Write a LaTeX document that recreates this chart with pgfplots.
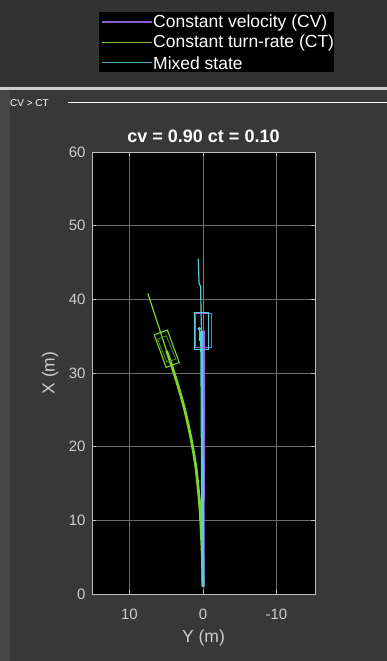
\documentclass[border=0pt]{standalone}
\usepackage{pgfplots}
\pgfplotsset{compat=1.18}
\usepackage{fontspec}
\setmainfont{Liberation Sans}
\definecolor{bg}{RGB}{56,56,56}
\definecolor{bgtop}{RGB}{50,50,50}
\definecolor{strip}{RGB}{70,70,70}
\definecolor{sepline}{RGB}{205,205,205}
\definecolor{axgray}{RGB}{190,190,190}
\definecolor{gridgray}{RGB}{110,110,110}
\definecolor{lblgray}{RGB}{205,205,205}
\definecolor{cvcol}{RGB}{160,95,225}
\definecolor{ctcol}{RGB}{120,215,45}
\definecolor{mxcol}{RGB}{85,205,225}
\definecolor{cvleg}{RGB}{140,90,200}
\definecolor{ctleg}{RGB}{115,190,60}
\definecolor{mxleg}{RGB}{75,175,180}
\begin{document}
\begin{tikzpicture}
\useasboundingbox (0pt,0pt) rectangle (387pt,661pt);
\fill[bg] (0pt,0pt) rectangle (387pt,661pt);
\fill[bgtop] (0pt,572pt) rectangle (387pt,661pt);
\fill[strip] (0pt,0pt) rectangle (10pt,571pt);
\draw[sepline, line width=2.5pt] (0pt,572.5pt) -- (387pt,572.5pt);
\node[anchor=west, inner sep=0pt, text=white, font=\fontsize{10}{12}\selectfont] at (10pt,558pt) {CV > CT};
\draw[white, line width=1.3pt] (68pt,558.5pt) -- (387pt,558.5pt);
% legend
\fill[black] (99pt,589pt) rectangle (334pt,649pt);
\draw[cvleg, line width=1.4pt] (102pt,639pt) -- (152pt,639pt);
\draw[ctleg, line width=1.4pt] (102pt,618.5pt) -- (152pt,618.5pt);
\draw[mxleg, line width=1.4pt] (102pt,598.5pt) -- (152pt,598.5pt);
\begin{scope}[every node/.style={anchor=west, inner sep=0pt, text=white, font=\fontsize{17.5}{20}\selectfont}]
\node at (153pt,638.5pt) {Constant velocity (CV)};
\node at (153pt,618pt) {Constant turn-rate (CT)};
\node at (153pt,598pt) {Mixed state};
\end{scope}
\begin{scope}[shift={(92pt,67pt)}]
\begin{axis}[
  at={(0pt,0pt)}, anchor=south west,
  scale only axis, width=223pt, height=442pt,
  axis background/.style={fill=black},
  x dir=reverse,
  xmin=-15.24, xmax=15.1, ymin=0, ymax=60,
  xtick={-10,0,10}, ytick={0,10,20,30,40,50,60},
  grid=major,
  major grid style={draw=gridgray, line width=0.7pt},
  axis line style={draw=axgray, line width=0.9pt},
  tick style={draw=axgray, line width=0.7pt},
  tick align=inside, major tick length=4pt,
  /pgf/number format/assume math mode=true,
  tick label style={text=lblgray, font=\fontsize{15}{18}\selectfont},
  xticklabel style={yshift=-11pt},
  yticklabel style={xshift=-3pt},
  xlabel={Y (m)}, ylabel={X (m)},
  label style={text=lblgray, font=\fontsize{17.5}{21}\selectfont},
  xlabel style={at={(axis description cs:0.5,-0.1005)}, anchor=center},
  ylabel style={at={(axis description cs:-0.188,0.5)}, anchor=center},
  title={cv = 0.90 ct = 0.10},
  title style={at={(axis description cs:0.5,1.023)}, anchor=center, text=white, font=\bfseries\fontsize{18}{21}\selectfont},
]
% history tracks (thick)
\addplot[cvcol, line width=2.6pt] coordinates {(-0.03,1.0) (-0.05,10) (-0.1,20) (-0.12,30) (-0.1,35.8)};
\addplot[ctcol, line width=2.8pt] coordinates {
(0.0,1.0) (0.03,3) (0.08,5) (0.16,7) (0.26,9) (0.37,11) (0.52,13) (0.72,15) (0.93,17)
(1.24,19) (1.6,21) (2.02,23) (2.48,25) (3.02,27) (3.62,29) (4.25,31) (4.95,33.0)};
\addplot[mxcol, line width=2.9pt] coordinates {(0.0,1.0) (0.05,10) (0.1,20) (0.15,30) (0.2,35.7)};
% predicted paths (thin)
\addplot[cvcol, line width=1.2pt] coordinates {(-0.05,35.8) (-0.05,46.0)};
\addplot[ctcol, line width=1.2pt] coordinates {(4.95,33.0) (7.5,40.8)};
\addplot[mxcol, line width=1.2pt] coordinates {(0.2,35.7) (0.27,38.3) (0.31,41.7) (0.54,42.2) (0.64,45.5)};
% vehicle boxes
\addplot[cvcol, line width=1.1pt] coordinates {(1.0,33.4) (-1.1,33.4) (-1.1,38.1) (1.0,38.1) (1.0,33.4)};
\addplot[ctcol, line width=1.1pt] coordinates {(6.627,35.184) (4.841,35.834) (3.233,31.416) (5.019,30.766) (6.627,35.184)};
\addplot[ctcol!70!black, line width=0.8pt] coordinates {(6.2,34.6) (5.0,35.05) (3.7,31.9) (4.9,31.45) (6.2,34.6)};
\addplot[mxcol, line width=1.1pt] coordinates {(1.2,33.2) (-0.8,33.2) (-0.8,38.2) (1.2,38.2) (1.2,33.2)};
\addplot[mxcol, line width=1.0pt, mark=*, mark size=1.3pt] coordinates {(0.5,36.0)};
\addplot[mxcol, line width=0.9pt] coordinates {(0.5,36.0) (0.5,34.4)};
\end{axis}
\end{scope}
\end{tikzpicture}
\end{document}
